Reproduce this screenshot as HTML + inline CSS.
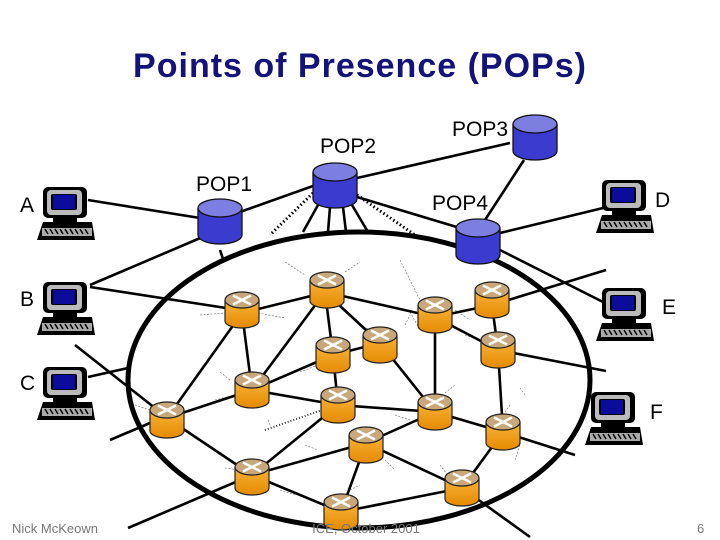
<!DOCTYPE html>
<html><head><meta charset="utf-8"><style>
html,body{margin:0;padding:0;background:#fff}
svg{display:block}
text{font-family:"Liberation Sans",sans-serif}
</style></head><body>
<svg width="720" height="540" viewBox="0 0 720 540" xmlns="http://www.w3.org/2000/svg">
<defs>
<linearGradient id="og" x1="0" y1="0" x2="0" y2="1"><stop offset="0" stop-color="#f7b23a"/><stop offset="1" stop-color="#e58a00"/></linearGradient>
<symbol id="rt" overflow="visible">
<path d="M-17,0 V21 A17,7 0 0 0 17,21 V0" fill="url(#og)" stroke="#222" stroke-width="1.2"/>
<ellipse cx="0" cy="0" rx="17" ry="8" fill="#c8a77a" stroke="#222" stroke-width="1.2"/>
<path d="M-9,-4.5 L9,4.5 M-9,4.5 L9,-4.5" stroke="#fff" stroke-width="2.5"/>
</symbol>
<symbol id="pop" overflow="visible">
<path d="M-22,0 V27 A22,9 0 0 0 22,27 V0" fill="#3b3bd0" stroke="#111" stroke-width="1.3"/>
<ellipse cx="0" cy="0" rx="22" ry="9" fill="#7c7ee0" stroke="#111" stroke-width="1.3"/>
</symbol>
<symbol id="pc" overflow="visible">
<rect x="0" y="0" width="44" height="31" rx="5" fill="#000"/>
<rect x="4" y="3" width="35" height="25" rx="4" fill="#bbb"/>
<rect x="8" y="7" width="26" height="16" rx="2" fill="#000"/>
<rect x="10" y="8" width="22" height="14" fill="#0c0c9a"/>
<rect x="10" y="31" width="24" height="4" fill="#000"/>
<path d="M0,35 H49 L52,53 H-6 Z" fill="#000"/>
<rect x="-1" y="41" width="50" height="8" fill="#aaa"/>
<path d="M2,42 l3,5 M7,42 l3,5 M12,42 l3,5 M17,42 l3,5 M22,42 l3,5 M27,42 l3,5 M32,42 l3,5 M37,42 l3,5 M42,42 l3,5" stroke="#000" stroke-width="1.5"/>
</symbol>
</defs>

<text x="360" y="77" text-anchor="middle" font-size="34" font-weight="bold" fill="#13137a" letter-spacing="1">Points of Presence (POPs)</text>

<g stroke="#666" stroke-width="0.6" stroke-dasharray="2,1.5">
<path d="M285,262 L305,275 M345,272 L360,262 M200,315 L225,313 M258,313 L285,318 M400,260 L420,300 M455,310 L470,320 M215,400 L235,395 M150,410 L135,405 M360,325 L370,330 M410,312 L420,330 M480,340 L465,335 M230,380 L220,372 M268,420 L272,430 M300,372 L318,365 M395,415 L410,420 M445,393 L455,385 M440,465 L450,478 M280,490 L295,495 M350,490 L360,485 M385,460 L395,470 M380,335 L395,345 M405,325 L410,315 M525,395 L520,388 M225,468 L240,470 M305,445 L318,450 M520,445 L515,460 M503,415 L510,405"/>
</g>
<path d="M265,430 L322,410" stroke="#333" stroke-width="2" stroke-dasharray="1,2"/>

<g stroke="#000" stroke-width="2.6" fill="none">
<path d="M88,200 L200,218"/>
<path d="M90,285 L205,236"/>
<path d="M90,287 L226,308"/>
<path d="M88,377 L128,368"/>
<path d="M75,345 L160,412"/>
<path d="M150,423 L110,440"/>
<path d="M240,212 L313,186"/>
<path d="M357,178 L510,143"/>
<path d="M524,160 L485,220"/>
<path d="M357,197 L460,228"/>
<path d="M500,233 L603,208"/>
<path d="M500,250 L605,303"/>
<path d="M220,250 L224,262"/>
<path d="M318,205 L303,232 M330,207 L328,232 M343,207 L346,232 M352,205 L368,232"/>
<path d="M327,292 L242,313 M325,292 L333,355 M325,292 L380,343 M325,292 L252,390 M325,292 L435,317"/>
<path d="M242,313 L252,390 M242,313 L167,418"/>
<path d="M252,390 L333,355 M252,390 L338,405 M252,390 L167,418"/>
<path d="M333,355 L380,343 M333,355 L338,405"/>
<path d="M380,343 L435,412 M338,405 L435,412 M338,405 L252,475"/>
<path d="M435,317 L435,412 M435,317 L492,305 M435,317 L498,350 M492,305 L498,350 M492,305 L606,270"/>
<path d="M498,350 L606,371 M498,350 L503,432"/>
<path d="M435,412 L366,443 M435,412 L503,432"/>
<path d="M366,443 L252,475 M366,443 L341,512 M366,443 L462,488"/>
<path d="M503,432 L462,488 M503,432 L575,455"/>
<path d="M167,418 L252,475 M252,475 L341,512 M341,512 L462,488"/>
<path d="M252,475 L128,528 M462,488 L530,537"/>
</g>
<g stroke="#000" stroke-width="3" stroke-dasharray="1.5,2.5" fill="none">
<path d="M313,193 L270,235 M357,195 L415,235"/>
</g>

<ellipse cx="359" cy="380" rx="231" ry="148" fill="none" stroke="#000" stroke-width="5"/>

<use href="#rt" x="327" y="280"/>
<use href="#rt" x="242" y="300"/>
<use href="#rt" x="435" y="305"/>
<use href="#rt" x="492" y="290"/>
<use href="#rt" x="380" y="335"/>
<use href="#rt" x="333" y="345"/>
<use href="#rt" x="498" y="340"/>
<use href="#rt" x="252" y="380"/>
<use href="#rt" x="338" y="395"/>
<use href="#rt" x="435" y="402"/>
<use href="#rt" x="167" y="410"/>
<use href="#rt" x="366" y="435"/>
<use href="#rt" x="503" y="422"/>
<use href="#rt" x="252" y="467"/>
<use href="#rt" x="462" y="478"/>
<use href="#rt" x="341" y="502"/>

<use href="#pop" x="220" y="208"/>
<use href="#pop" x="335" y="172"/>
<use href="#pop" x="535" y="124"/>
<use href="#pop" x="478" y="228"/>
<g font-size="21" fill="#000">
<text x="196" y="191">POP1</text>
<text x="320" y="153">POP2</text>
<text x="452" y="136">POP3</text>
<text x="432" y="210">POP4</text>
</g>

<use href="#pc" x="43" y="187"/>
<use href="#pc" x="43" y="282"/>
<use href="#pc" x="43" y="367"/>
<use href="#pc" x="602" y="180"/>
<use href="#pc" x="602" y="288"/>
<use href="#pc" x="591" y="392"/>
<g font-size="21" fill="#000">
<text x="20" y="212">A</text>
<text x="20" y="306">B</text>
<text x="20" y="390">C</text>
<text x="655" y="207">D</text>
<text x="662" y="314">E</text>
<text x="650" y="419">F</text>
</g>

<g font-size="13" fill="#777">
<text x="12" y="533">Nick McKeown</text>
<text x="366" y="533" text-anchor="middle">ICE, October 2001</text>
<text x="697" y="533">6</text>
</g>
</svg>
</body></html>
